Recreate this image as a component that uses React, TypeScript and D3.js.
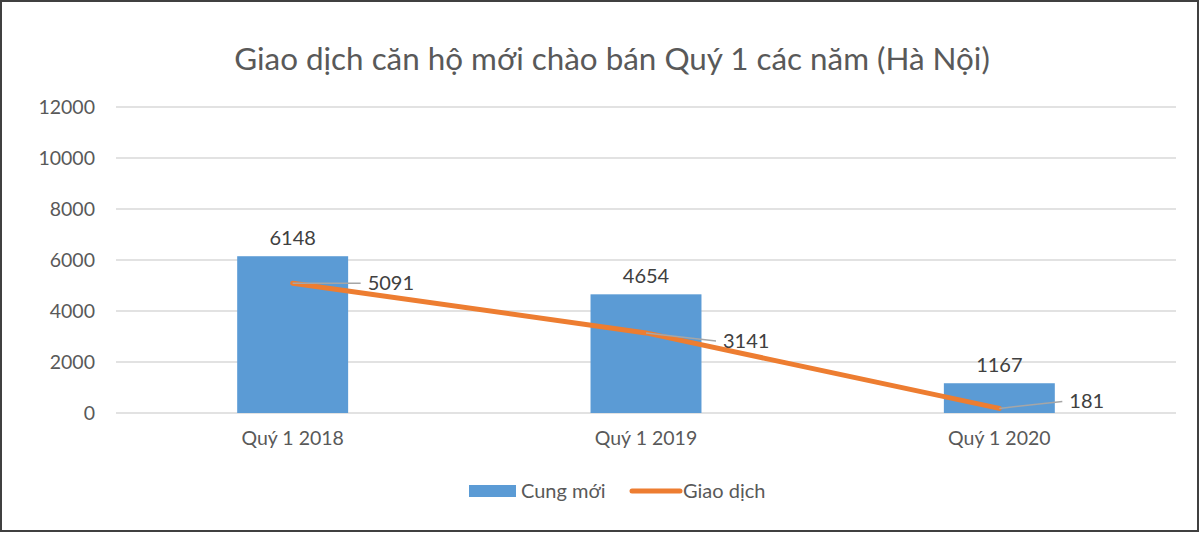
import React, { useEffect, useRef } from 'react';
import * as d3 from 'd3';

const categories = ['Quý 1 2018', 'Quý 1 2019', 'Quý 1 2020'];
const cungMoi = [6148, 4654, 1167];
const giaoDich = [5091, 3141, 181];
const yTicks = [0, 2000, 4000, 6000, 8000, 10000, 12000];

// leader line offsets for the line labels (dx, dy from the point)
const leaderOffsets = [
  { dx: 68, dy: 0 },
  { dx: 70, dy: 8 },
  { dx: 63, dy: -7 },
];

const App: React.FC = () => {
  const svgRef = useRef<SVGSVGElement>(null);
  const width = 1200;
  const height = 533;

  useEffect(() => {
    const svg = d3.select(svgRef.current);
    svg.selectAll('*').remove();
    const font = 'Lato, "Open Sans", sans-serif';

    svg.append('rect')
      .attr('x', 1).attr('y', 1)
      .attr('width', width - 3).attr('height', height - 3)
      .attr('fill', '#fff')
      .attr('stroke', '#404040')
      .attr('stroke-width', 2);

    const margin = { top: 107, right: 24, bottom: 120, left: 116 };
    const innerWidth = width - margin.left - margin.right;
    const innerHeight = height - margin.top - margin.bottom;

    const g = svg.append('g')
      .attr('transform', `translate(${margin.left},${margin.top})`);

    const xScale = d3.scaleBand()
      .domain(categories)
      .range([0, innerWidth])
      .paddingInner(0.686)
      .paddingOuter(0.343);

    const yScale = d3.scaleLinear()
      .domain([0, 12000])
      .range([innerHeight, 0]);

    // title
    svg.append('text')
      .attr('x', 612)
      .attr('y', 59)
      .attr('dy', '0.35em')
      .attr('text-anchor', 'middle')
      .style('font-family', font)
      .style('font-size', '31.4px')
      .style('fill', '#595959')
      .text('Giao dịch căn hộ mới chào bán Quý 1 các năm (Hà Nội)');

    // gridlines
    g.append('g')
      .selectAll('line')
      .data(yTicks)
      .enter()
      .append('line')
      .attr('x1', 0)
      .attr('x2', innerWidth)
      .attr('y1', d => yScale(d))
      .attr('y2', d => yScale(d))
      .attr('stroke', '#d9d9d9')
      .attr('stroke-width', 1.5);

    // y axis labels
    const yAxis = g.append('g')
      .call(d3.axisLeft(yScale).tickValues(yTicks).tickSize(0).tickPadding(21).tickFormat(d => String(d)));
    yAxis.select('.domain').remove();
    yAxis.selectAll('text')
      .style('font-family', font)
      .style('font-size', '19.5px')
      .style('fill', '#595959');

    // x axis labels
    const xAxis = g.append('g')
      .attr('transform', `translate(0,${innerHeight})`)
      .call(d3.axisBottom(xScale).tickSize(0).tickPadding(18));
    xAxis.select('.domain').remove();
    xAxis.selectAll('text')
      .style('font-family', font)
      .style('font-size', '19.5px')
      .style('fill', '#595959');

    // bars
    g.selectAll('.bar')
      .data(cungMoi)
      .enter()
      .append('rect')
      .attr('class', 'bar')
      .attr('x', (d, i) => xScale(categories[i]) || 0)
      .attr('y', d => yScale(d))
      .attr('width', xScale.bandwidth())
      .attr('height', d => innerHeight - yScale(d))
      .attr('fill', '#5B9BD5');

    g.selectAll('.bar-label')
      .data(cungMoi)
      .enter()
      .append('text')
      .attr('class', 'bar-label')
      .attr('x', (d, i) => (xScale(categories[i]) || 0) + xScale.bandwidth() / 2)
      .attr('y', d => yScale(d) - 11)
      .attr('text-anchor', 'middle')
      .style('font-family', font)
      .style('font-size', '20px')
      .style('fill', '#404040')
      .text(d => d);

    const cx = (i: number) => (xScale(categories[i]) || 0) + xScale.bandwidth() / 2;

    // line
    const line = d3.line<number>()
      .x((d, i) => cx(i))
      .y(d => yScale(d));

    g.append('path')
      .datum(giaoDich)
      .attr('d', line)
      .attr('fill', 'none')
      .attr('stroke', '#ED7D31')
      .attr('stroke-width', 5)
      .attr('stroke-linecap', 'round');

    // leader lines and labels
    giaoDich.forEach((v, i) => {
      const px = cx(i);
      const py = yScale(v);
      const o = leaderOffsets[i];
      g.append('line')
        .attr('x1', px).attr('y1', py)
        .attr('x2', px + o.dx).attr('y2', py + o.dy)
        .attr('stroke', '#a6a6a6')
        .attr('stroke-width', 1.5);
      g.append('text')
        .attr('x', px + o.dx + 7)
        .attr('y', py + o.dy)
        .attr('dy', '0.35em')
        .style('font-family', font)
        .style('font-size', '20px')
        .style('fill', '#404040')
        .text(v);
    });

    // legend
    const legend = svg.append('g').attr('transform', 'translate(469,491)');
    legend.append('rect')
      .attr('x', 0).attr('y', -6)
      .attr('width', 47).attr('height', 12)
      .attr('fill', '#5B9BD5');
    legend.append('text')
      .attr('x', 52).attr('y', 0).attr('dy', '0.35em')
      .style('font-family', font)
      .style('font-size', '20px')
      .style('fill', '#595959')
      .text('Cung mới');
    legend.append('line')
      .attr('x1', 163).attr('x2', 211)
      .attr('y1', 0).attr('y2', 0)
      .attr('stroke', '#ED7D31')
      .attr('stroke-width', 5)
      .attr('stroke-linecap', 'round');
    legend.append('text')
      .attr('x', 214).attr('y', 0).attr('dy', '0.35em')
      .style('font-family', font)
      .style('font-size', '20px')
      .style('fill', '#595959')
      .text('Giao dịch');
  }, []);

  return (
    <div style={{ position: 'absolute', left: 0, top: 0 }}>
      <svg ref={svgRef} width={width} height={height} style={{ display: 'block' }} />
    </div>
  );
};

export default App;
